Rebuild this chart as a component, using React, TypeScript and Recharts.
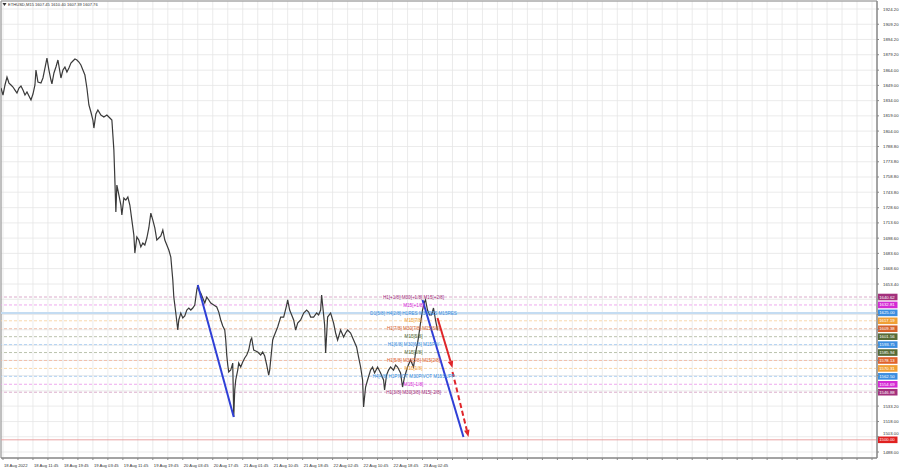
import React from "react";
import {
    LineChart,
    Line,
    XAxis,
    YAxis,
    CartesianGrid,
    ReferenceLine,
    ReferenceDot,
    ReferenceArea,
} from "recharts";

// bar position (15-min bars, left edge = 0) and close price
const barPos = [
    0, 2, 4, 6, 8, 10, 12, 14, 16, 18, 20, 22, 24, 26, 28, 30, 32, 34, 35, 37,
    40, 42, 44, 46, 48, 50, 51, 53, 55, 57, 59, 60, 62, 64, 66, 68, 70, 72, 74, 76,
    78, 80, 82, 84, 86, 88, 90, 92, 93, 95, 97, 100, 103, 106, 109, 111, 113, 114, 115, 116,
    118, 120, 121, 123, 125, 127, 129, 131, 133, 134, 136, 138, 140, 142, 144, 146, 148, 150, 152, 154,
    156, 158, 160, 162, 164, 166, 168, 170, 172, 173, 175, 177, 178, 180, 182, 184, 186, 188, 190, 192,
    194, 196, 197, 198, 200, 202, 204, 206, 208, 210, 213, 216, 218, 220, 222, 224, 225, 226, 227, 228,
    230, 232, 233, 234, 235, 237, 238, 240, 242, 244, 246, 248, 250, 251, 253, 255, 257, 260, 262, 264,
    266, 268, 269, 270, 272, 273, 275, 277, 280, 283, 286, 287, 289, 291, 293, 295, 297, 300, 303, 306,
    308, 310, 313, 316, 318, 320, 321, 322, 324, 325, 327, 330, 333, 335, 337, 340, 343, 345, 347, 350,
    353, 356, 358, 360, 362, 363, 365, 367, 370, 372, 374, 377, 380, 383, 384, 386, 388, 390, 393, 395,
    397, 400, 402, 404, 407, 410, 413, 415, 417, 418, 420, 422, 424, 425, 427, 429, 431, 433, 435, 437,
];

const closePrice = [
    1846.4, 1839.5, 1849.4, 1857.2, 1851.3, 1849.4, 1847.4, 1844.4, 1841.5, 1846.4, 1848.4, 1844.4, 1839.5, 1842.5, 1838.5, 1834.6, 1840.5, 1849.4, 1864.1, 1852.3,
    1851.3, 1856.3, 1866.1, 1875.9, 1864.1, 1854.3, 1850.4, 1861.2, 1867.1, 1874.0, 1862.2, 1856.3, 1864.1, 1867.1, 1862.2, 1866.1, 1871.0, 1873.0, 1875.0, 1874.0,
    1872.0, 1869.1, 1864.1, 1859.2, 1846.4, 1829.7, 1822.8, 1814.9, 1807.0, 1820.8, 1824.8, 1819.8, 1817.9, 1819.8, 1816.9, 1814.9, 1785.4, 1755.8, 1724.3, 1750.9,
    1741.1, 1731.2, 1721.4, 1738.1, 1736.1, 1739.1, 1731.2, 1716.4, 1701.7, 1683.9, 1699.7, 1696.7, 1689.9, 1693.8, 1691.8, 1698.7, 1708.6, 1723.3, 1716.4, 1708.6,
    1696.7, 1698.7, 1700.7, 1706.6, 1696.7, 1691.8, 1686.9, 1680.0, 1657.4, 1640.6, 1624.9, 1608.1, 1618.0, 1624.9, 1620.0, 1621.9, 1627.8, 1629.8, 1627.8, 1629.8,
    1632.7, 1647.5, 1652.4, 1647.5, 1644.6, 1639.6, 1634.7, 1640.6, 1637.7, 1634.7, 1632.7, 1630.8, 1625.8, 1618.0, 1612.1, 1608.1, 1598.3, 1583.5, 1573.7, 1566.8,
    1568.7, 1575.6, 1522.5, 1549.1, 1558.9, 1568.7, 1575.6, 1571.7, 1576.6, 1580.6, 1583.5, 1588.4, 1598.3, 1600.2, 1588.4, 1587.5, 1586.5, 1583.5, 1586.5, 1582.5,
    1573.7, 1563.8, 1568.7, 1578.6, 1598.3, 1601.2, 1606.2, 1611.1, 1620.9, 1620.9, 1632.7, 1637.7, 1627.8, 1622.9, 1618.0, 1608.1, 1615.0, 1618.0, 1624.9, 1627.8,
    1625.8, 1620.9, 1620.9, 1624.9, 1622.9, 1627.8, 1642.6, 1632.7, 1613.0, 1585.5, 1620.9, 1624.9, 1615.0, 1605.2, 1598.3, 1608.1, 1601.2, 1605.2, 1608.1, 1605.2,
    1598.3, 1591.4, 1581.5, 1571.7, 1558.9, 1532.3, 1552.0, 1558.9, 1568.7, 1571.7, 1565.8, 1571.7, 1565.8, 1558.9, 1549.1, 1563.8, 1568.7, 1571.7, 1568.7, 1573.7,
    1571.7, 1565.8, 1552.0, 1561.9, 1571.7, 1578.6, 1571.7, 1585.5, 1595.3, 1601.2, 1615.0, 1627.8, 1635.7, 1637.7, 1627.8, 1622.9, 1622.9, 1629.8, 1618.0, 1607.8,
];

const timeLabels = [
    "18 Aug 2022", "18 Aug 11:45", "18 Aug 19:45", "19 Aug 03:45", "19 Aug 11:45",
    "19 Aug 19:45", "20 Aug 03:45", "20 Aug 17:45", "21 Aug 01:45", "21 Aug 10:45",
    "21 Aug 18:45", "22 Aug 02:45", "22 Aug 10:45", "22 Aug 18:45", "23 Aug 02:45",
];

const priceTicks = [
    1924.2, 1909.2, 1894.2, 1879.2, 1864.0, 1849.0, 1834.0, 1819.0, 1804.0, 1788.8,
    1773.8, 1758.8, 1743.8, 1728.6, 1713.6, 1698.6, 1683.6, 1668.6, 1653.4, 1638.4,
    1623.4, 1608.4, 1593.2, 1578.2, 1563.2, 1548.2, 1533.2, 1518.0, 1503.0, 1488.0,
];

// murrey-math style levels drawn by the indicator
const levelPrices = [
    1640.62, 1632.81, 1625.0, 1617.19, 1609.38, 1601.56, 1593.75,
    1585.94, 1578.13, 1570.31, 1562.5, 1554.69, 1546.88,
];
const levelNotes = [
    "H1[+1/8] M30[+1/8] M15[+2/8]",
    "M15[+1/8]",
    "D1[5/8] H4[2/8] H1RES M30RES M15RES",
    "M15[7/8]",
    "H1[7/8] M30[7/8] M15[6/8]",
    "M15[5/8]",
    "H1[6/8] M30[6/8] M15PIV",
    "M15[3/8]",
    "H1[5/8] M30[5/8] M15[2/8]",
    "M15[1/8]",
    "H4[4/8] H1PIVOT M30PIVOT M15SUPP",
    "M15[-1/8]",
    "H1[3/8] M30[3/8] M15[-2/8]",
];
const levelColors = [
    "#a3307c", "#d42bd4", "#3b8ee0", "#f0a035", "#d5622b", "#576b37", "#3b8ee0",
    "#576b37", "#e0632d", "#f0a035", "#3b8ee0", "#d42bd4", "#a3307c",
];
const targetPrice = 1500.0;

// hand-drawn trend arrows: [fromBar, fromPrice, toBar, toPrice]
const blueLines = [
    [197, 1652.4, 233, 1522.5],
    [422, 1637.7, 463, 1502.8],
];
const redArrows = [
    [437, 1619.9, 452, 1570.7],
    [452, 1566.8, 468, 1502.8],
];

const X_MAX = 877;
const Y_MIN = 1482.1;
const Y_MAX = 1932.1;
const NOTE_BAR = 413;
const FONT = "'Liberation Sans', Arial, sans-serif";

const chartData = barPos.map((b, i) => ({ bar: b, price: closePrice[i] }));
const gridBars = Array.from({ length: 59 }, (_, i) => 2 + i * 15);

function lighten(hex: string, amt: number) {
    const n = parseInt(hex.slice(1), 16);
    const mix = (c: number) => Math.round(c + (255 - c) * amt);
    const r = mix((n >> 16) & 255), g = mix((n >> 8) & 255), b = mix(n & 255);
    return `rgb(${r},${g},${b})`;
}

const tagLabel = (color: string, text: string) => (props: any) => {
    const vb = props.viewBox || {};
    const x = (vb.x ?? 0) + (vb.width ?? 0) + 1;
    const y = vb.y ?? 0;
    return (
        <g>
            <rect x={x} y={y - 3.3} width={19.5} height={6.6} fill={color} />
            <text x={x + 1.2} y={y + 1.5} fontSize={4.3} fill="#fff" fontFamily={FONT}>
                {text}
            </text>
        </g>
    );
};

const arrowShape = (color: string, dashed: boolean, head: boolean) => (props: any) => {
    const { x1, y1, x2, y2 } = props;
    if (x1 == null) return <g />;
    const ang = Math.atan2(y2 - y1, x2 - x1);
    const len = 7, half = 2.8;
    const bx = x2 - len * Math.cos(ang), by = y2 - len * Math.sin(ang);
    const p1 = `${x2},${y2}`;
    const p2 = `${bx + half * Math.sin(ang)},${by - half * Math.cos(ang)}`;
    const p3 = `${bx - half * Math.sin(ang)},${by + half * Math.cos(ang)}`;
    return (
        <g>
            <line
                x1={x1}
                y1={y1}
                x2={head ? bx : x2}
                y2={head ? by : y2}
                stroke={color}
                strokeWidth={2}
                strokeDasharray={dashed ? "5 3" : undefined}
            />
            {head && <polygon points={`${p1} ${p2} ${p3}`} fill={color} />}
        </g>
    );
};

const XTick = (props: any) => {
    const { x, y, index } = props;
    if (index % 2 !== 0 || index / 2 >= timeLabels.length) return <g />;
    return (
        <text x={x + 1} y={y + 5} fontSize={4.2} fill="#333" fontFamily={FONT}>
            {timeLabels[index / 2]}
        </text>
    );
};

const YTick = (props: any) => {
    const { x, y, payload } = props;
    const v = payload.value;
    if (v > 1545 && v < 1646) return <g />;
    // the 1503 label sits just above the red target tag
    const dy = Math.abs(v - 1503) < 0.01 ? -2.2 : 1.5;
    return (
        <text x={x + 2} y={y + dy} fontSize={4.3} fill="#333" fontFamily={FONT}>
            {v.toFixed(2)}
        </text>
    );
};

export default function App() {
    return (
        <div style={{ position: "absolute", left: 0, top: 0, width: 900, height: 468, background: "#fff" }}>
            <LineChart width={900} height={468} data={chartData} margin={{ top: 1, right: 0, bottom: 0, left: 1 }}>
                <CartesianGrid stroke="#e6e6e6" strokeWidth={0.8} />
                <XAxis
                    dataKey="bar"
                    type="number"
                    domain={[0, X_MAX]}
                    ticks={gridBars}
                    interval={0}
                    height={10}
                    tick={<XTick />}
                    tickSize={2}
                    axisLine={{ stroke: "#888" }}
                    tickLine={{ stroke: "#888" }}
                    allowDataOverflow
                />
                <YAxis
                    orientation="right"
                    type="number"
                    domain={[Y_MIN, Y_MAX]}
                    ticks={priceTicks}
                    interval={0}
                    width={23}
                    tick={<YTick />}
                    tickSize={2}
                    axisLine={{ stroke: "#888" }}
                    tickLine={{ stroke: "#888" }}
                    allowDataOverflow
                />
                <ReferenceArea x1={0} x2={X_MAX} y1={Y_MIN} y2={Y_MAX} fill="none" stroke="#8a8a8a" strokeWidth={1} />
                {levelPrices.map((p, i) => (
                    <ReferenceLine
                        key={`lvl-${p}`}
                        y={p}
                        stroke={i === 2 ? "#c4dcf2" : lighten(levelColors[i], 0.55)}
                        strokeWidth={i === 2 ? 2 : 0.9}
                        strokeDasharray={i === 2 ? undefined : "3 2"}
                        label={tagLabel(levelColors[i], p.toFixed(2))}
                    />
                ))}
                <ReferenceLine
                    y={targetPrice}
                    stroke="#e89a9a"
                    strokeWidth={0.9}
                    label={tagLabel("#e02020", targetPrice.toFixed(2))}
                />
                <Line
                    type="linear"
                    dataKey="price"
                    stroke="#3a3a3a"
                    strokeWidth={1.2}
                    dot={false}
                    isAnimationActive={false}
                />
                {levelPrices.map((p, i) => (
                    <ReferenceDot
                        key={`note-${p}`}
                        x={NOTE_BAR}
                        y={p}
                        r={0}
                        fill="none"
                        stroke="none"
                        label={{
                            value: levelNotes[i],
                            position: "center",
                            fill: levelColors[i],
                            fontSize: 4.6,
                            fontFamily: FONT,
                        }}
                    />
                ))}
                {blueLines.map((s, i) => (
                    <ReferenceLine
                        key={`blue-${i}`}
                        segment={[{ x: s[0], y: s[1] }, { x: s[2], y: s[3] }]}
                        stroke="#2f3fd6"
                        shape={arrowShape("#2f3fd6", false, false)}
                    />
                ))}
                {redArrows.map((s, i) => (
                    <ReferenceLine
                        key={`red-${i}`}
                        segment={[{ x: s[0], y: s[1] }, { x: s[2], y: s[3] }]}
                        stroke="#e0262a"
                        shape={arrowShape("#e0262a", i === 1, true)}
                    />
                ))}
            </LineChart>
            <svg width={120} height={10} style={{ position: "absolute", left: 0, top: 0 }}>
                <polygon points="2.5,3 6.5,3 4.5,6" fill="#333" />
                <text x={8} y={6.3} fontSize={4.1} fill="#333" fontFamily={FONT}>
                    ETHUSD,M15  1607.45 1610.40 1607.39 1607.76
                </text>
            </svg>
        </div>
    );
}
